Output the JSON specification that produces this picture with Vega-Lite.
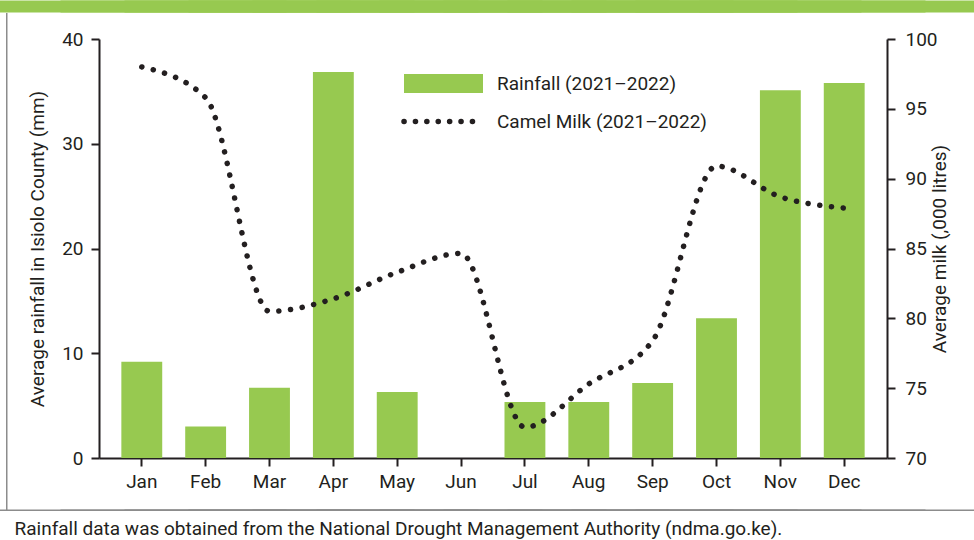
{
  "$schema": "https://vega.github.io/schema/vega-lite/v6.json",
  "width": 788,
  "height": 419,
  "autosize": {"type": "none"},
  "padding": {"left": 99, "top": 39, "right": 87, "bottom": 82},
  "background": "white",
  "config": {
    "font": "Roboto",
    "view": {"stroke": null},
    "axis": {
      "grid": false,
      "domainColor": "#231f20",
      "domainWidth": 2,
      "tickColor": "#231f20",
      "tickWidth": 2,
      "tickSize": 8,
      "labelColor": "#231f20",
      "labelFontSize": 19,
      "labelFont": "Roboto",
      "titleColor": "#231f20",
      "titleFontSize": 19,
      "titleFont": "Roboto",
      "titleFontWeight": "normal"
    },
    "legend": {
      "labelFont": "Roboto",
      "labelFontSize": 19,
      "labelColor": "#231f20",
      "labelOffset": 14,
      "labelLimit": 0,
      "padding": 0,
      "title": null
    }
  },
  "data": {
    "values": [
      {"month": "Jan", "rainfall": 9.2, "milk": 98.0},
      {"month": "Feb", "rainfall": 3.0, "milk": 95.8},
      {"month": "Mar", "rainfall": 6.7, "milk": 80.5},
      {"month": "Apr", "rainfall": 36.85, "milk": 81.4},
      {"month": "May", "rainfall": 6.3, "milk": 83.3},
      {"month": "Jun", "rainfall": 0, "milk": 84.65},
      {"month": "Jul", "rainfall": 5.35, "milk": 72.2},
      {"month": "Aug", "rainfall": 5.35, "milk": 75.3},
      {"month": "Sep", "rainfall": 7.15, "milk": 78.4},
      {"month": "Oct", "rainfall": 13.35, "milk": 90.9},
      {"month": "Nov", "rainfall": 35.1, "milk": 88.7},
      {"month": "Dec", "rainfall": 35.8, "milk": 87.9}
    ]
  },
  "layer": [
    {
      "mark": {"type": "line", "opacity": 0},
      "encoding": {
        "x": {
          "field": "month",
          "type": "ordinal",
          "sort": null,
          "axis": {
            "orient": "bottom",
            "title": "Rainfall data was obtained from the National Drought Management Authority (ndma.go.ke).",
            "titleX": -85,
            "titleY": 10,
            "titleAlign": "left",
            "titleBaseline": "top",
            "titleFontSize": 19,
            "titleLimit": 0,
            "labels": false,
            "domain": false,
            "offset": 51,
            "tickSize": 1.5,
            "tickWidth": 290,
            "tickColor": "#8c8c8c"
          }
        },
        "y": {
          "field": "milk",
          "type": "quantitative",
          "scale": {"domain": [70, 100]},
          "axis": {
            "orient": "left",
            "title": null,
            "labels": false,
            "domain": false,
            "offset": 92,
            "values": [84.14],
            "tickSize": 1.5,
            "tickWidth": 497,
            "tickColor": "#8c8c8c"
          }
        }
      }
    },
    {
      "mark": {"type": "bar"},
      "encoding": {
        "x": {
          "field": "month",
          "type": "ordinal",
          "sort": null,
          "scale": {"paddingInner": 0.36, "paddingOuter": 0.35},
          "axis": {"orient": "bottom", "title": null, "labelAngle": 0, "labelPadding": 6}
        },
        "y": {
          "field": "rainfall",
          "type": "quantitative",
          "scale": {"domain": [0, 40]},
          "axis": {
            "orient": "left",
            "title": "Average rainfall in Isiolo County (mm)",
            "values": [0, 10, 20, 30, 40],
            "labelPadding": 8,
            "titlePadding": 14
          }
        },
        "fill": {
          "datum": "Rainfall (2021–2022)",
          "scale": {"range": ["#97c950"]},
          "legend": {
            "orient": "none",
            "legendX": 305,
            "legendY": 5,
            "symbolType": "M-1,-0.24H1V0.24H-1Z",
            "symbolSize": 6241,
            "symbolStrokeWidth": 0
          }
        }
      }
    },
    {
      "mark": {
        "type": "line",
        "interpolate": "monotone",
        "strokeWidth": 5.5,
        "strokeDash": [0.1, 11.7],
        "strokeCap": "round"
      },
      "encoding": {
        "x": {
          "field": "month",
          "type": "ordinal",
          "sort": null,
          "axis": {
            "orient": "top",
            "title": null,
            "labels": false,
            "domain": false,
            "offset": 27,
            "tickSize": 12,
            "tickWidth": 290,
            "tickColor": "#97c950"
          }
        },
        "y": {
          "field": "milk",
          "type": "quantitative",
          "scale": {"domain": [70, 100]},
          "axis": {
            "orient": "right",
            "title": "Average milk (,000 litres)",
            "titleAngle": 270,
            "values": [70, 75, 80, 85, 90, 95, 100],
            "labelPadding": 10,
            "titlePadding": 12
          }
        },
        "stroke": {
          "datum": "Camel Milk (2021–2022)",
          "scale": {"range": ["#231f20"]},
          "legend": {
            "orient": "none",
            "legendX": 302,
            "legendY": 40,
            "labelOffset": 11,
            "symbolType": "stroke",
            "symbolSize": 6241,
            "symbolStrokeWidth": 5.5,
            "symbolDash": [0.1, 11.3],
            "encode": {"symbols": {"update": {"strokeCap": {"value": "round"}}}}
          }
        }
      }
    }
  ],
  "resolve": {"scale": {"y": "independent"}, "axis": {"x": "independent", "y": "independent"}}
}
